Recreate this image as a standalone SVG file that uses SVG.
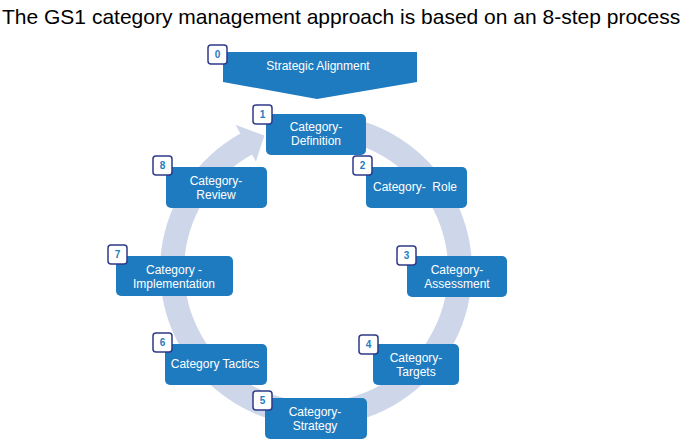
<svg xmlns="http://www.w3.org/2000/svg" width="685" height="442" viewBox="0 0 685 442">
<style>
.title{font-family:"Liberation Sans",Arial,sans-serif;font-size:21px;fill:#000}
.box{fill:#1F7BBF}
.lbl{font-family:"Liberation Sans",Arial,sans-serif;font-size:12px;fill:#fff;text-anchor:middle}
.badge{fill:#fff;stroke:#2E3A87;stroke-width:1.5}
.num{font-family:"Liberation Sans",Arial,sans-serif;font-size:10px;font-weight:bold;fill:#1F7BBF;text-anchor:middle}
.ring{fill:#CDD7E9}
</style>
<rect width="685" height="442" fill="#fff"/>
<text class="title" x="2" y="24">The GS1 category management approach is based on an 8-step process</text>
<g id="connectors">
<path class="ring" d="M 343.1 116.4 A 156 156 0 1 1 240.4 133.6 L 235.5 124.8 L 264.4 135.6 L 255.9 161.5 L 252.0 154.6 A 132 132 0 1 0 338.9 140.0 Z"/>
</g>
<g id="node0">
<path class="box" d="M 223 52 L 417 52 L 417 82 L 317 99 L 223 82 Z"/>
<text class="lbl" x="318" y="70">Strategic Alignment</text>
<rect class="badge" x="208" y="45" width="19" height="19" rx="3"/>
<text class="num" x="217.5" y="58">0</text>
</g>
<g id="node1">
<rect class="box" x="266" y="114" width="100" height="41" rx="5"/>
<text class="lbl" x="316" y="131">Category-</text>
<text class="lbl" x="316" y="145">Definition</text>
<rect class="badge" x="253" y="105" width="19" height="19" rx="3"/>
<text class="num" x="262.5" y="118">1</text>
</g>
<g id="node2">
<rect class="box" x="366" y="167" width="101" height="41" rx="5"/>
<text class="lbl" x="415" y="191" style="white-space:pre">Category-  Role</text>
<rect class="badge" x="353" y="156" width="19" height="19" rx="3"/>
<text class="num" x="362.5" y="169">2</text>
</g>
<g id="node3">
<rect class="box" x="407" y="256" width="100" height="41" rx="5"/>
<text class="lbl" x="457" y="274">Category-</text>
<text class="lbl" x="457" y="288">Assessment</text>
<rect class="badge" x="397" y="246" width="19" height="19" rx="3"/>
<text class="num" x="406.5" y="259">3</text>
</g>
<g id="node4">
<rect class="box" x="373" y="344" width="86" height="41" rx="5"/>
<text class="lbl" x="416" y="362">Category-</text>
<text class="lbl" x="416" y="376">Targets</text>
<rect class="badge" x="359" y="335" width="19" height="19" rx="3"/>
<text class="num" x="368.5" y="348">4</text>
</g>
<g id="node5">
<rect class="box" x="265" y="398" width="102" height="41" rx="5"/>
<text class="lbl" x="315" y="416">Category-</text>
<text class="lbl" x="315" y="430">Strategy</text>
<rect class="badge" x="253" y="391" width="19" height="19" rx="3"/>
<text class="num" x="262.5" y="404">5</text>
</g>
<g id="node6">
<rect class="box" x="165" y="344" width="102" height="41" rx="5"/>
<text class="lbl" x="215" y="368">Category Tactics</text>
<rect class="badge" x="153" y="333" width="19" height="19" rx="3"/>
<text class="num" x="162.5" y="346">6</text>
</g>
<g id="node7">
<rect class="box" x="116" y="256" width="117" height="40" rx="5"/>
<text class="lbl" x="174" y="274">Category -</text>
<text class="lbl" x="174" y="288">Implementation</text>
<rect class="badge" x="108" y="245" width="19" height="19" rx="3"/>
<text class="num" x="117.5" y="258">7</text>
</g>
<g id="node8">
<rect class="box" x="166" y="167" width="101" height="41" rx="5"/>
<text class="lbl" x="216" y="185">Category-</text>
<text class="lbl" x="216" y="199">Review</text>
<rect class="badge" x="153" y="156" width="19" height="19" rx="3"/>
<text class="num" x="162.5" y="169">8</text>
</g>
</svg>
